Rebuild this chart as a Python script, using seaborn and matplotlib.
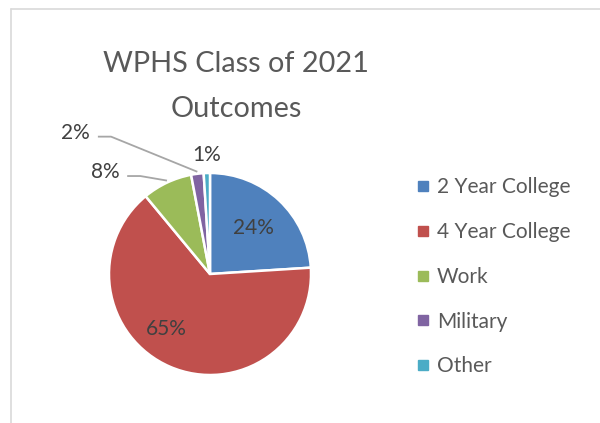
import numpy as np
import matplotlib
matplotlib.use("Agg")
import matplotlib.pyplot as plt
import seaborn as sns
from matplotlib.lines import Line2D

# ============================================
# DATA
# ============================================

outcomes = ["2 Year College", "4 Year College", "Work", "Military", "Other"]
shares = [24, 65, 8, 2, 1]
colors = ["#4F81BD", "#C0504D", "#9BBB59", "#8064A2", "#4BACC6"]
title_lines = ["WPHS Class of 2021", "Outcomes"]

# ============================================
# STYLE
# ============================================

sns.set_theme(style="white")
plt.rcParams["font.family"] = ["Lato", "DejaVu Sans"]
text_grey = "#595959"
label_grey = "#404040"

W, H = 600, 423
fig = plt.figure(figsize=(W / 100, H / 100), dpi=100)

# pie axes placed in pixel terms: centre (210, 274), radius 101
cx, cy, r = 210, 274, 101
lim = 1.25
half = lim * r
ax = fig.add_axes([(cx - half) / W, (H - cy - half) / H, 2 * half / W, 2 * half / H])
ax.set_xlim(-lim, lim)
ax.set_ylim(-lim, lim)
ax.set_aspect("equal")
ax.axis("off")

wedges, _ = ax.pie(
    shares,
    colors=colors,
    startangle=90,
    counterclock=False,
    wedgeprops=dict(edgecolor="white", linewidth=1.8),
    radius=1,
)

# ============================================
# DATA LABELS
# ============================================

inside_dist = {24: 0.63, 65: 0.70}
for w, v in zip(wedges, shares):
    if v not in inside_dist:
        continue
    mid = np.deg2rad((w.theta1 + w.theta2) / 2)
    # Excel nudges the big slice label toward the lower left
    if v == 65:
        mid -= np.deg2rad(15)
    d = inside_dist[v]
    ax.text(d * np.cos(mid), d * np.sin(mid), f"{v}%", ha="center",
            va="center", fontsize=15, color=label_grey)

# outside labels with leader lines
outside = {8: (-1.04, 1.01, True), 2: (-1.33, 1.40, True), 1: (-0.03, 1.18, False)}
for w, v in zip(wedges, shares):
    if v not in outside:
        continue
    mid = np.deg2rad((w.theta1 + w.theta2) / 2)
    ex, ey = np.cos(mid), np.sin(mid)
    lx, ly, lead = outside[v]
    ax.text(lx, ly, f"{v}%", ha="center", va="center", fontsize=15,
            color=label_grey, clip_on=False)
    if lead:
        sx = lx + 0.22
        ax.plot([sx, sx + 0.13, ex], [ly - 0.04, ly - 0.04, ey + 0.02],
                color="#A6A6A6", lw=1.3, solid_capstyle="butt", clip_on=False)

# ============================================
# TITLE
# ============================================

for txt, base in zip(title_lines, [72, 117]):
    fig.text(236 / W, 1 - base / H, txt, ha="center", va="baseline",
             fontsize=20.8, color=text_grey)

# ============================================
# LEGEND
# ============================================

handles = [Line2D([0], [0], marker="s", linestyle="none", markersize=7,
                  markerfacecolor=c, markeredgecolor=c) for c in colors]
fig.legend(handles, outcomes, loc="upper left",
           bbox_to_anchor=(408 / W, 1 - 169 / H), frameon=False,
           fontsize=15, labelcolor=text_grey, handlelength=0.6,
           handletextpad=0.4, labelspacing=1.19, borderaxespad=0)

# ============================================
# CHART AREA BORDER (partial)
# ============================================

border = "#D9D9D9"
fig.add_artist(Line2D([10.5 / W, 10.5 / W], [0, 1 - 9.5 / H], color=border, lw=1.2))
fig.add_artist(Line2D([10.5 / W, 1], [1 - 9.5 / H, 1 - 9.5 / H], color=border, lw=1.2))

fig.savefig("out.png", dpi=100, facecolor="white")
